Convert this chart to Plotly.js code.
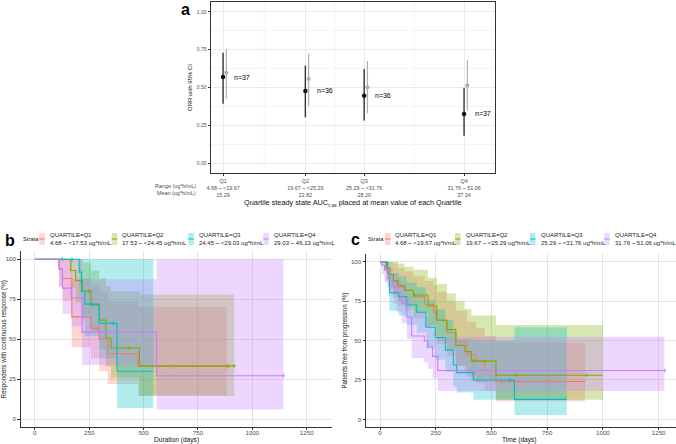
<!DOCTYPE html>
<html>
<head>
<meta charset="utf-8">
<script src="https://cdn.plot.ly/plotly-3.0.1.min.js"></script>
<style>html,body{margin:0;padding:0;background:#fff}#plot{width:676px;height:444px}</style>
</head>
<body>
<div id="plot"></div>
<script>
// ---- panel a : ORR by exposure quartile ----
let quartiles = ['Q1', 'Q2', 'Q3', 'Q4'];
let rangeA = ['4.68 ~ &lt;19.67', '19.67 ~ &lt;25.29', '25.29 ~ &lt;31.76', '31.76 ~ 51.06'];
let meanA = [15.29, 22.82, 28.20, 37.34];
let nA = [37, 36, 36, 37];
let orrObs = [0.569, 0.477, 0.446, 0.325];
let orrLow = [0.393, 0.303, 0.281, 0.180];
let orrHigh = [0.730, 0.646, 0.622, 0.499];
let orrPred = [0.598, 0.558, 0.501, 0.514];
let predLow = [0.422, 0.378, 0.330, 0.347];
let predHigh = [0.754, 0.723, 0.675, 0.681];

// ---- panel b : duration of response by quartile ----
let rangeB = ['4.68 ~ &lt;17.53 ug*h/mL', '17.53 ~ &lt;24.45 ug*h/mL', '24.45 ~ &lt;29.03 ug*h/mL', '29.03 ~ 46.13 ug*h/mL'];
let durTime = [
  [0, 111, 127, 170, 258, 296, 335, 474, 883],
  [0, 165, 188, 219, 258, 296, 327, 350, 481, 917],
  [0, 204, 215, 230, 296, 378, 545],
  [0, 111, 127, 168, 217, 560, 1143]
];
let durSurv = [
  [100, 94, 88, 64, 57, 50, 41, 33, 33],
  [100, 93, 86.7, 80, 71.5, 62, 51, 44.6, 33.4, 33.4],
  [100, 92, 80, 72, 60, 30, 30],
  [100, 94, 82, 76, 54.5, 27.2, 27.2]
];
let durLow = [
  [100, 83, 74, 45, 38, 30, 22, 14.8, 14.8],
  [100, 82, 73, 65, 55, 44, 33, 26, 14.6, 14.6],
  [100, 78, 62, 52, 38, 7, 7],
  [100, 83, 66, 58, 34, 6.2, 6.2]
];
let durUp = [
  [100, 100, 100, 88, 84, 80, 74, 70.4, 70.4],
  [100, 100, 100, 98, 93, 88, 83, 80, 78, 78],
  [100, 100, 100, 100, 100, 100, 100],
  [100, 100, 100, 100, 87.5, 100, 100]
];
let durCens = [[290, 512, 636, 883], [250, 435, 890, 917], [126, 171, 262, 360], [333, 1143]];

// ---- panel c : progression free survival by quartile ----
let rangeC = ['4.68 ~ &lt;19.67 ug*h/mL', '19.67 ~ &lt;25.29 ug*h/mL', '25.29 ~ &lt;31.76 ug*h/mL', '31.76 ~ 51.06 ug*h/mL'];
let pfsTime = [
  [0, 25, 40, 60, 80, 110, 150, 200, 240, 255, 300, 340, 390, 430, 470, 520, 920],
  [0, 30, 45, 60, 80, 110, 150, 215, 255, 300, 340, 380, 410, 520, 1000],
  [0, 34, 42, 84, 120, 165, 206, 248, 293, 329, 344, 419, 603, 838],
  [0, 8, 20, 40, 60, 75, 97, 120, 142, 199, 215, 236, 259, 1276]
];
let pfsSurv = [
  [100, 96, 92, 88, 84, 82, 78, 73, 68, 63, 55, 49, 41, 37, 31, 24, 24],
  [100, 96, 92, 88, 85, 82, 79, 72, 63, 57, 47, 43, 37, 28, 28],
  [100, 92.8, 80.5, 78, 72.7, 68, 58.5, 52, 44, 34.5, 29.7, 25, 12.7, 12.7],
  [100, 98, 95, 88, 84, 80, 74, 65, 53, 50, 46, 40, 31, 31]
];
let pfsLow = [
  [100, 88, 82, 77, 72, 69, 64, 59, 53, 48, 40, 34, 27, 23, 18, 11.5, 11.5],
  [100, 89, 84, 79, 75, 72, 68, 60, 50, 44, 34, 30, 24, 12.5, 12.5],
  [100, 84, 69, 66, 60, 55, 45, 38, 30, 21, 17, 12.5, 2.7, 2.7],
  [100, 92, 87, 78, 73, 68, 61, 51, 39, 36, 32, 26, 18, 18]
];
let pfsUp = [
  [100, 100, 100, 99, 96, 94, 91, 88, 85, 81, 75, 69, 62, 58, 53, 49, 49],
  [100, 100, 100, 100, 99, 97, 95, 90, 86, 80, 75, 70, 66, 60, 60],
  [100, 100, 93, 91, 87, 84, 76, 70, 63, 55, 51, 50, 58.5, 58.5],
  [100, 100, 100, 96, 93, 90, 86, 78, 68, 65, 61, 56, 52.5, 52.5]
];
let pfsCens = [[250, 545, 628, 755], [155, 419, 468, 613, 926], [583], [1276]];

let colors = ['#F8766D', '#7CAE00', '#00BFC4', '#C77CFF'];
let fills = ['rgba(248,118,109,0.3)', 'rgba(124,174,0,0.3)', 'rgba(0,191,196,0.3)', 'rgba(199,124,255,0.3)'];

const W = 676, H = 444;
const px = v => v / W;
const py = v => 1 - v / H;
const FONT = 'Liberation Sans, Arial, sans-serif';

function survAt(times, surv, t) {
  let s = surv[0];
  for (let i = 0; i < times.length; i++) if (times[i] <= t) s = surv[i];
  return s;
}

let traces = [];

// panel a traces
traces.push({
  x: meanA.map(m => m + 0.3), y: orrPred, type: 'scatter', mode: 'markers',
  marker: {color: '#aaaaaa', size: 4},
  error_y: {type: 'data', symmetric: false,
    array: predHigh.map((h, i) => h - orrPred[i]),
    arrayminus: predLow.map((l, i) => orrPred[i] - l),
    width: 0, thickness: 1.2, color: '#b0b0b0'},
  xaxis: 'x', yaxis: 'y', showlegend: false
});
traces.push({
  x: meanA, y: orrObs, type: 'scatter', mode: 'markers',
  marker: {color: '#111', size: 4.5},
  error_y: {type: 'data', symmetric: false,
    array: orrHigh.map((h, i) => h - orrObs[i]),
    arrayminus: orrLow.map((l, i) => orrObs[i] - l),
    width: 0, thickness: 1.4, color: '#333'},
  xaxis: 'x', yaxis: 'y', showlegend: false
});

// KM panels: ribbons first, then step curves and censor marks
function kmTraces(time, surv, low, up, cens, xa, ya) {
  let out = [];
  for (let i = 0; i < 4; i++) {
    out.push({x: time[i], y: low[i], type: 'scatter', mode: 'lines', line: {width: 0, shape: 'hv'},
      xaxis: xa, yaxis: ya, showlegend: false, hoverinfo: 'skip'});
    out.push({x: time[i], y: up[i], type: 'scatter', mode: 'lines', line: {width: 0, shape: 'hv'},
      fill: 'tonexty', fillcolor: fills[i], xaxis: xa, yaxis: ya, showlegend: false, hoverinfo: 'skip'});
  }
  for (let i = 0; i < 4; i++) {
    out.push({x: time[i], y: surv[i], type: 'scatter', mode: 'lines',
      line: {color: colors[i], width: 1.1, shape: 'hv'}, xaxis: xa, yaxis: ya, showlegend: false});
    out.push({x: cens[i], y: cens[i].map(t => survAt(time[i], surv[i], t)), type: 'scatter', mode: 'markers',
      marker: {symbol: 'cross-thin', size: 3, line: {color: colors[i], width: 0.8}},
      xaxis: xa, yaxis: ya, showlegend: false});
  }
  return out;
}
traces = traces.concat(kmTraces(durTime, durSurv, durLow, durUp, durCens, 'x2', 'y2'));
traces = traces.concat(kmTraces(pfsTime, pfsSurv, pfsLow, pfsUp, pfsCens, 'x3', 'y3'));

let tickA = quartiles.map((q, i) => q + '<br>' + rangeA[i] + '<br>' + meanA[i].toFixed(2));

let annotations = [];
let shapes = [];

// panel a labels
meanA.forEach((m, i) => {
  annotations.push({x: m + 0.85, y: orrObs[i], xref: 'x', yref: 'y', text: 'n=' + nA[i], showarrow: false,
    xanchor: 'left', yanchor: 'middle', font: {size: 7, color: '#000'}});
});
for (let i = 0; i < meanA.length - 1; i++) {
  let mid = (meanA[i] + meanA[i + 1]) / 2;
  shapes.push({type: 'line', xref: 'x', yref: 'y domain', x0: mid, x1: mid, y0: 0, y1: 1,
    line: {color: '#f3f3f3', width: 0.8}, layer: 'below'});
}
annotations.push({x: px(198), y: py(185.5), xref: 'paper', yref: 'paper', text: 'Range (ug*h/mL)', showarrow: false,
  xanchor: 'right', yanchor: 'middle', font: {size: 5.4, color: '#4d4d4d'}});
annotations.push({x: px(198), y: py(192.5), xref: 'paper', yref: 'paper', text: 'Mean (ug*h/mL)', showarrow: false,
  xanchor: 'right', yanchor: 'middle', font: {size: 5.4, color: '#4d4d4d'}});

// x titles of the survival panels
annotations.push({x: px(176), y: py(439.5), xref: 'paper', yref: 'paper', text: 'Duration (days)', showarrow: false,
  xanchor: 'center', yanchor: 'middle', font: {size: 6.6, color: '#111'}});
annotations.push({x: px(519), y: py(439.5), xref: 'paper', yref: 'paper', text: 'Time (days)', showarrow: false,
  xanchor: 'center', yanchor: 'middle', font: {size: 6.6, color: '#111'}});

// panel letters
[['a', 179, 10], ['b', 3, 240], ['c', 349, 239]].forEach(l => {
  annotations.push({x: px(l[1]), y: py(l[2]), xref: 'paper', yref: 'paper', text: '<b>' + l[0] + '</b>',
    showarrow: false, xanchor: 'left', yanchor: 'middle', font: {size: 16, color: '#000'}});
});

// strata legends
function legendRow(labels, strataX, keyX) {
  annotations.push({x: px(strataX), y: py(239), xref: 'paper', yref: 'paper', text: 'Strata', showarrow: false,
    xanchor: 'left', yanchor: 'middle', font: {size: 5.8, color: '#222'}});
  for (let i = 0; i < 4; i++) {
    shapes.push({type: 'rect', xref: 'paper', yref: 'paper', x0: px(keyX[i]), x1: px(keyX[i] + 5.5),
      y0: py(245), y1: py(233), fillcolor: fills[i], line: {width: 0}});
    shapes.push({type: 'line', xref: 'paper', yref: 'paper', x0: px(keyX[i]), x1: px(keyX[i] + 5.5),
      y0: py(239), y1: py(239), line: {color: colors[i], width: 1}});
    annotations.push({x: px(keyX[i] + 8.5), y: py(238.8), xref: 'paper', yref: 'paper',
      text: 'QUARTILE=' + quartiles[i] + '<br>' + labels[i], showarrow: false, align: 'left',
      xanchor: 'left', yanchor: 'middle', font: {size: 6, color: '#222'}});
  }
}
legendRow(rangeB, 20.5, [39.3, 111.7, 188.3, 263.3]);
legendRow(rangeC, 365.5, [385, 455, 530, 604.3]);

let kmX = {
  dtick: 250, tick0: 0, showline: true, linecolor: '#333', linewidth: 1, ticks: 'outside', ticklen: 2,
  tickcolor: '#333', showgrid: true, gridcolor: '#e3e3e3', gridwidth: 1, zeroline: false,
  tickfont: {size: 6.2, color: '#4d4d4d'}, ticklabelstandoff: -3, automargin: false
};
let kmY = {
  tickvals: [0, 25, 50, 75, 100], range: [-5, 105], showline: true, linecolor: '#333', linewidth: 1,
  ticks: 'outside', ticklen: 2.5, tickcolor: '#333', showgrid: true, gridcolor: '#e3e3e3', gridwidth: 1,
  zeroline: false, tickfont: {size: 6.2, color: '#4d4d4d'}, automargin: false
};

let layout = {
  width: W, height: H,
  margin: {l: 0, r: 0, t: 0, b: 0},
  paper_bgcolor: '#fff', plot_bgcolor: '#fff',
  font: {family: FONT, color: '#222'},
  showlegend: false,
  xaxis: {
    domain: [px(210.7), px(495)], range: [14.16, 40.17], anchor: 'y',
    tickvals: meanA, ticktext: tickA, tickfont: {size: 5.4, color: '#4d4d4d'},
    showline: true, mirror: true, linecolor: '#333', linewidth: 1.1, ticks: 'outside', ticklen: 2, tickcolor: '#333',
    showgrid: true, gridcolor: '#ebebeb', zeroline: false, automargin: false,
    title: {text: 'Quartile steady state AUC<sub>τ,ss</sub> placed at mean value of each Quartile',
      font: {size: 7.3, color: '#111'}, standoff: 3}
  },
  yaxis: {
    domain: [py(173), py(2)], range: [-0.066, 1.066], anchor: 'x',
    tickvals: [0, 0.25, 0.5, 0.75, 1], tickformat: '.2f', tickfont: {size: 5, color: '#4d4d4d'},
    showline: true, mirror: true, linecolor: '#333', linewidth: 1.1, ticks: 'outside', ticklen: 2, tickcolor: '#333',
    showgrid: true, gridcolor: '#ebebeb', zeroline: false, automargin: false,
    minor: {dtick: 0.125, showgrid: true, gridcolor: '#f4f4f4', ticks: ''},
    title: {text: 'ORR with 95% CI', font: {size: 6, color: '#111'}, standoff: 3}
  },
  xaxis2: Object.assign({}, kmX, {domain: [px(20.7), px(331.7)], range: [-65, 1365], anchor: 'y2'}),
  yaxis2: Object.assign({}, kmY, {domain: [py(427.3), py(251.3)], anchor: 'x2',
    title: {text: 'Responders with continuous response (%)', font: {size: 6.3, color: '#111'}, standoff: 2}}),
  xaxis3: Object.assign({}, kmX, {domain: [px(366), 1], range: [-63, 1328], anchor: 'y3'}),
  yaxis3: Object.assign({}, kmY, {domain: [py(427.2), py(254.1)], anchor: 'x3',
    title: {text: 'Patients free from progression (%)', font: {size: 6.3, color: '#111'}, standoff: 2}}),
  annotations: annotations,
  shapes: shapes
};

Plotly.newPlot('plot', traces, layout, {displayModeBar: false, staticPlot: true});
</script>
</body>
</html>
